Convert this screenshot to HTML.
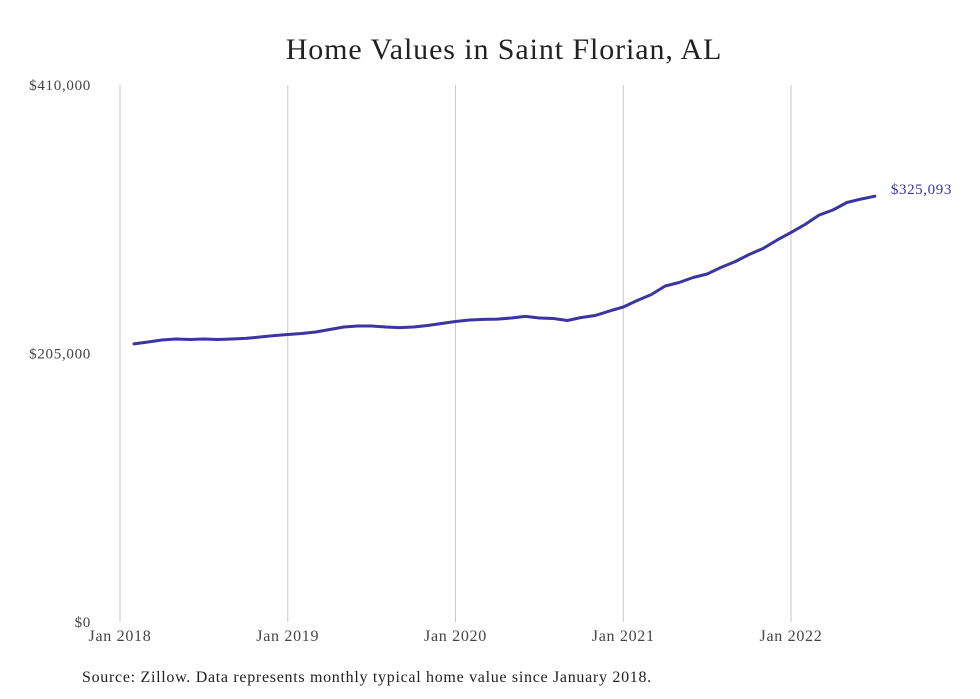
<!DOCTYPE html>
<html><head><meta charset="utf-8">
<style>
body{margin:0;background:#fff;}
svg{display:block;font-family:"Liberation Serif",serif;}
</style></head>
<body>
<svg width="980" height="699" viewBox="0 0 980 699">
<text x="504" y="59" text-anchor="middle" font-size="30" letter-spacing="0.9" fill="#222">Home Values in Saint Florian, AL</text>
<g id="grid"></g>
<g id="yaxis"></g>
<g id="xaxis"></g>
<path id="line" fill="none" stroke="#3b35a0" stroke-width="3" stroke-linejoin="round" stroke-linecap="round"/>
<text id="endlabel" font-size="15" letter-spacing="0.6" fill="#3b35a0"></text>
<text x="82" y="682" font-size="16" letter-spacing="0.7" fill="#222">Source: Zillow. Data represents monthly typical home value since January 2018.</text>
</svg>
<script>
const values = [212.3,213.8,215.3,216.1,215.7,216.1,215.7,216.1,216.5,217.6,218.7,219.5,220.3,221.4,223.3,225.2,226.0,226.0,225.2,224.8,225.2,226.4,227.9,229.4,230.6,231.0,231.3,232.1,233.3,232.1,231.7,230.2,232.5,234.0,237.4,240.5,245.5,250.0,256.5,259.2,263.0,265.7,270.7,275.2,280.6,285.2,291.6,297.4,303.5,310.7,314.6,320.3,322.9,325.093];
const startMonth = 1; // Feb 2018 (months since Jan 2018)
const xTickLabels = ["Jan 2018","Jan 2019","Jan 2020","Jan 2021","Jan 2022"];
const xTickMonths = [0,12,24,36,48];
const yTickValues = [0,205,410];
const yTickLabels = ["$0","$205,000","$410,000"];
const lastLabel = "$325,093";

const NS="http://www.w3.org/2000/svg";
const x = m => 120 + m*(671/48);
const y = v => 622 - v*(537/410);
function mk(tag, attrs, parent, text){const e=document.createElementNS(NS,tag);for(const k in attrs)e.setAttribute(k,attrs[k]);if(text!=null)e.textContent=text;parent.appendChild(e);return e;}
const grid=document.getElementById('grid'), xa=document.getElementById('xaxis'), ya=document.getElementById('yaxis');
xTickMonths.forEach((m,i)=>{
  const l=mk('line',{x1:x(m),x2:x(m),y1:85,y2:622,stroke:'#c8c8c8','stroke-width':1},grid);
  
  
  const t=mk('text',{x:x(m),y:641,'text-anchor':'middle','font-size':16,'letter-spacing':0.7,fill:'#444'},xa,xTickLabels[i]);
  
  
});
yTickValues.forEach((v,i)=>{
  const t=mk('text',{x:91,y:y(v)+5,'text-anchor':'end','font-size':15,'letter-spacing':0.7,fill:'#444'},ya,yTickLabels[i]);
  
  
});
let d='';
values.forEach((v,i)=>{d+=(i?'L':'M')+x(startMonth+i).toFixed(1)+','+y(v).toFixed(1);});
document.getElementById('line').setAttribute('d',d);
const lastI=values.length-1, el=document.getElementById('endlabel');
el.setAttribute('x',x(startMonth+lastI)+16);
el.setAttribute('y',y(values[lastI])-2);
el.textContent=lastLabel;
</script>
</body></html>
